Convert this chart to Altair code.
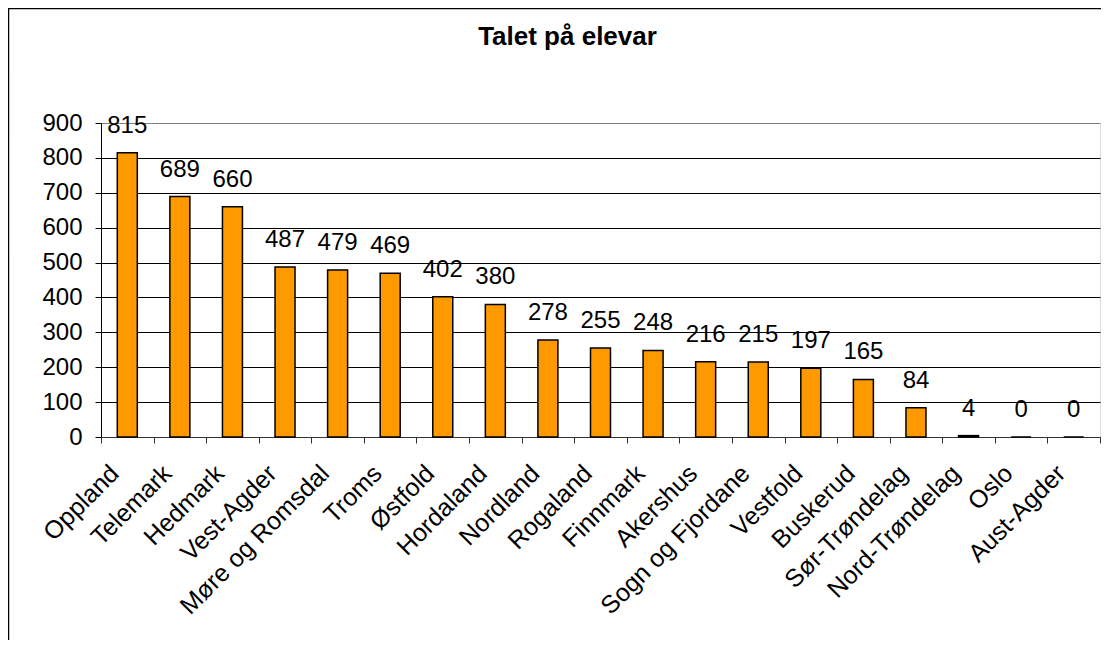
import altair as alt
import pandas as pd

categories = ["Oppland", "Telemark", "Hedmark", "Vest-Agder", "Møre og Romsdal",
              "Troms", "Østfold", "Hordaland", "Nordland", "Rogaland", "Finnmark",
              "Akershus", "Sogn og Fjordane", "Vestfold", "Buskerud", "Sør-Trøndelag",
              "Nord-Trøndelag", "Oslo", "Aust-Agder"]
values = [815, 689, 660, 487, 479, 469, 402, 380, 278, 255, 248, 216, 215, 197, 165, 84, 4, 0, 0]
y_ticks = [0, 100, 200, 300, 400, 500, 600, 700, 800, 900]
title_text = "Talet på elevar"

df = pd.DataFrame({"fylke": categories, "elevar": values})

FONT = "Liberation Sans"

x_enc = alt.X(
    "fylke:N", sort=categories, title=None,
    scale=alt.Scale(paddingInner=0, paddingOuter=0),
    axis=alt.Axis(labelAngle=-45, labelAlign="right", labelBaseline="middle",
                  labelFontSize=25, labelPadding=26, labelOffset=-13,
                  tickBand="extent", tickSize=6,
                  domainColor="#333333", tickColor="#333333", labelColor="black",
                  grid=False, labelFont=FONT, labelOverlap=False, labelLimit=0),
)
y_enc = alt.Y(
    "elevar:Q", title=None,
    scale=alt.Scale(domain=[0, 900], nice=False),
    axis=alt.Axis(values=y_ticks, labelFontSize=24, labelPadding=13, tickSize=6,
                  grid=True, labelOverlap=False,
                  gridColor={"condition": {"test": "datum.value === 900", "value": "#808080"},
                             "value": "black"},
                  gridWidth=1, domainColor="black", tickColor="black",
                  labelColor="black", labelFont=FONT),
)

frame = alt.Chart(alt.Data(values=[{}])).mark_rect(
    fill="transparent", stroke="black", strokeWidth=1.3
).encode(
    x=alt.value(-92.4), x2=alt.value(1300), y=alt.value(-114.4), y2=alt.value(900)
)

bars = alt.Chart(df).mark_bar(
    size=20, color="#FF9900", stroke="black", strokeWidth=1.5
).encode(x=x_enc, y=y_enc)

labels = alt.Chart(df).mark_text(
    fontSize=24, dy=-20, baseline="alphabetic", font=FONT, color="black"
).encode(
    x=x_enc,
    y=y_enc,
    text="elevar:Q",
)

chart = alt.layer(frame, bars, labels).properties(
    width=999, height=314,
    title=alt.TitleParams(title_text, fontSize=26, fontWeight="bold", font=FONT,
                          anchor="middle", frame="group", baseline="alphabetic",
                          dx=-33, offset=-63, color="black"),
    autosize=alt.AutoSizeParams(type="none"),
    padding={"left": 93, "top": 115, "right": 1, "bottom": 203},
).configure_view(
    stroke="#808080", strokeWidth=2
).configure(background="white")

chart.save("out.html", embed_options={"renderer": "svg", "actions": False})
